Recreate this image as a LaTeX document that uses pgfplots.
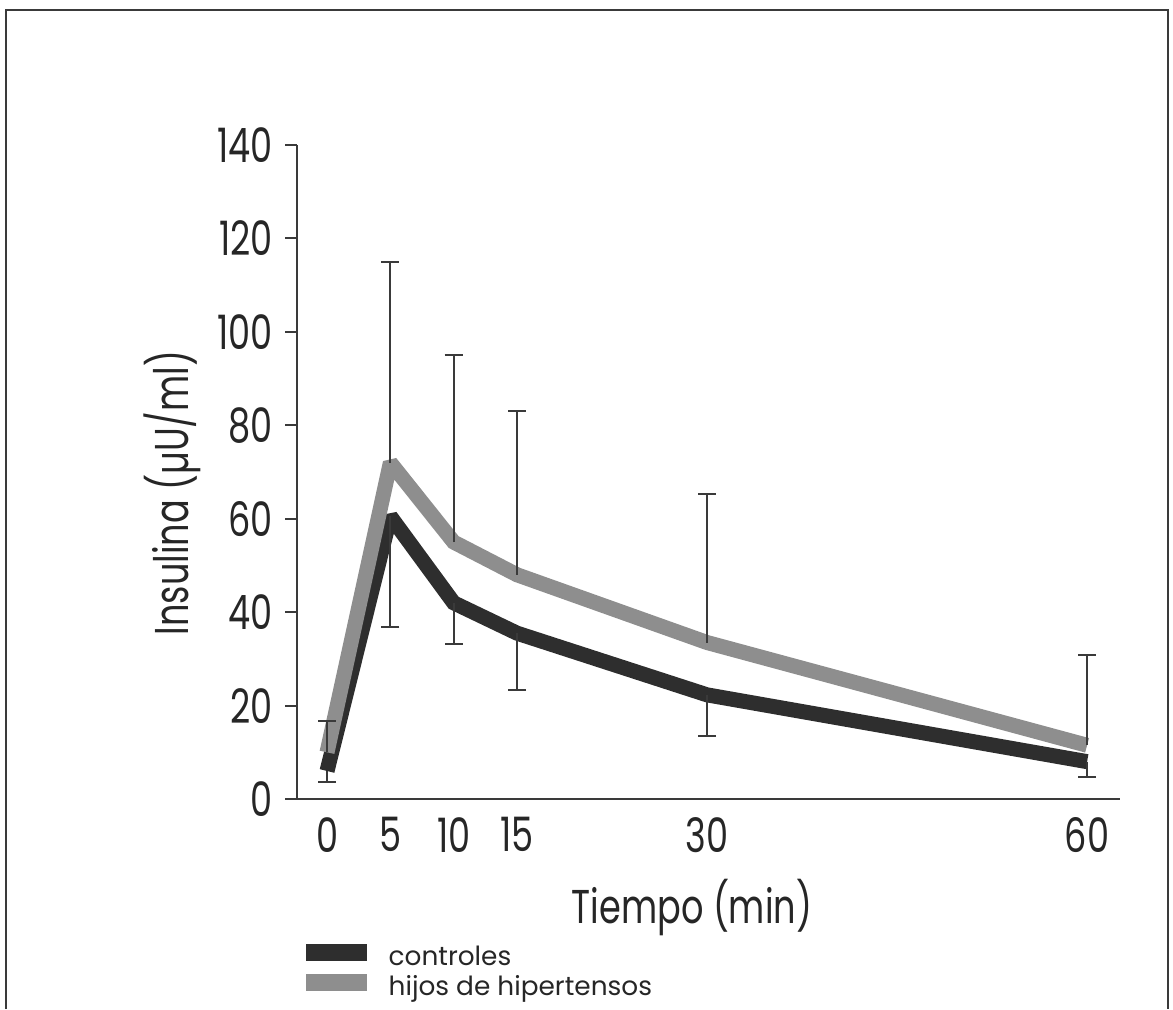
\documentclass[border=0pt]{standalone}
\usepackage{fontspec}
\setmainfont{Poppins}[FakeStretch=0.74]
\newfontfamily\legfont{Poppins}
\usepackage{pgfplots}
\pgfplotsset{compat=1.18}

\definecolor{darkline}{HTML}{2E2E2E}
\definecolor{grayline}{HTML}{8E8E8E}
\definecolor{axiscol}{HTML}{3A3A3A}

\begin{document}
\begin{tikzpicture}
\useasboundingbox (0,0) rectangle (117.3mm,100.9mm);
% outer frame (open at the bottom)
\draw[line width=0.2mm, axiscol] (0.6mm,0) -- (0.6mm,99.9mm) -- (116.8mm,99.9mm) -- (116.8mm,0);

\begin{axis}[
  at={(29.7mm,21.0mm)}, anchor=south west,
  scale only axis, width=82.3mm, height=65.4mm,
  xmin=-2.37, xmax=62.6, ymin=0, ymax=140,
  axis x line=bottom, axis y line=left,
  axis line style={-, line width=0.25mm, axiscol},
  xtick={0,5,10,15,30,60},
  ytick={0,20,...,140},
  xtick style={draw=none},
  ytick align=outside,
  major tick length=1.2mm,
  ytick style={line width=0.2mm, axiscol},
  /pgf/number format/assume math mode=true,
  tick label style={font=\fontsize{13.5}{16}\selectfont, text=black!85},
  every axis x label/.style={at={(axis description cs:0.48,-0.166)}, anchor=center},
  every axis y label/.style={at={(axis description cs:-0.152,0.468)}, anchor=center, rotate=90},
  label style={font=\fontsize{13.5}{16}\selectfont, text=black!85},
  xlabel={Tiempo (min)},
  ylabel={Insulina (µU/ml)},
  legend style={at={(axis description cs:0.0,-0.221)}, anchor=north west,
    draw=none, fill=none, inner sep=0pt, row sep=0pt,
    nodes={inner sep=0pt, text height=2.1mm, text depth=0.8mm},
    /tikz/every odd column/.append style={column sep=1.3mm},
    font=\legfont\fontsize{7.5}{8}\selectfont, text=black!85},
  legend cell align=left,
  legend image code/.code={\draw[#1, line width=1.7mm] (0mm,0.65mm) -- (6.1mm,0.65mm);},
  clip=false,
]
\addplot[darkline, line width=1.5mm, line join=miter, miter limit=2,
  error bars/.cd, y dir=minus, y explicit,
  error bar style={line width=0.2mm, axiscol},
  error mark options={rotate=90, mark size=0.9mm, line width=0.2mm, axiscol}]
  coordinates {
  (0,6)     +- (0,2.4)
  (5,60.5)  +- (0,23.7)
  (10,42)   +- (0,8.8)
  (15,35.5) +- (0,12.2)
  (30,22.3) +- (0,8.8)
  (60,8)    +- (0,3.3)
};
\addlegendentry{controles}
\addplot[grayline, line width=1.5mm, line join=miter, miter limit=2,
  error bars/.cd, y dir=plus, y explicit,
  error bar style={line width=0.2mm, axiscol},
  error mark options={rotate=90, mark size=0.9mm, line width=0.2mm, axiscol}]
  coordinates {
  (0,10)    +- (0,6.7)
  (5,72)    +- (0,43)
  (10,55)   +- (0,40)
  (15,48)   +- (0,35)
  (30,33.5) +- (0,31.8)
  (60,11.5) +- (0,19.3)
};
\addlegendentry{hijos de hipertensos}
\end{axis}
\end{tikzpicture}
\end{document}
